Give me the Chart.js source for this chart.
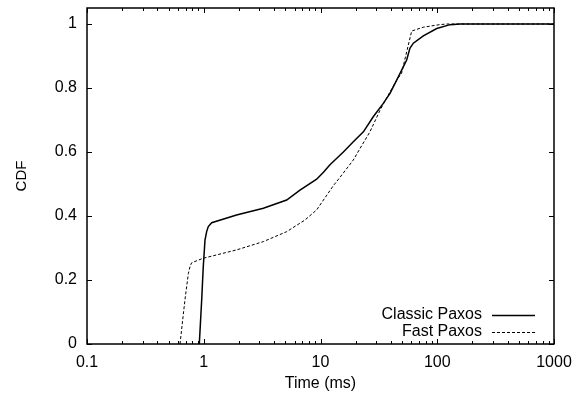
<!DOCTYPE html>
<html>
<head>
<meta charset="utf-8">
<script src="https://cdn.jsdelivr.net/npm/chart.js@4/dist/chart.umd.min.js"></script>
<style>
  html, body { margin: 0; padding: 0; background: #fff; }
  #wrap { width: 576px; height: 397px; }
</style>
</head>
<body>
<div id="wrap"><canvas id="cdfChart" width="576" height="397"></canvas></div>
<script>
// values
const classicX = [0.916, 0.96, 0.99, 1.025, 1.06, 1.094, 1.17, 1.91, 3.24, 5.13, 6.67, 9.27, 10.6, 12.05, 15.7, 19.1, 23.3, 28.3, 34.5, 39.4, 47.9, 54.7, 58.3, 62.4, 76, 99, 129, 157, 1000];
const classicY = [0, 0.1375, 0.24, 0.325, 0.352, 0.367, 0.379, 0.403, 0.424, 0.45, 0.481, 0.515, 0.537, 0.56, 0.60, 0.632, 0.663, 0.71, 0.752, 0.783, 0.845, 0.8875, 0.924, 0.94, 0.963, 0.986, 0.998, 1, 1];
const fastX = [0.626, 0.69, 0.738, 0.765, 0.789, 0.99, 1.91, 3.24, 5.13, 7.36, 9.27, 10.6, 12.9, 14.7, 19.1, 21.8, 26.5, 32.4, 38, 45, 49.5, 54.7, 60.4, 76, 105, 120, 1000];
const fastY = [0, 0.1375, 0.22, 0.244, 0.254, 0.268, 0.294, 0.32, 0.351, 0.3875, 0.419, 0.45, 0.495, 0.521, 0.575, 0.611, 0.663, 0.731, 0.778, 0.825, 0.846, 0.913, 0.978, 0.99, 0.998, 1, 1];
const xTicks = [0.1, 1, 10, 100, 1000];
const yTicks = [0, 0.2, 0.4, 0.6, 0.8, 1];
const seriesNames = ['Classic Paxos', 'Fast Paxos'];

const FONT = '"Liberation Sans", Arial, Helvetica, sans-serif';
const toPts = (xs, ys) => xs.map((x, i) => ({ x: x, y: ys[i] }));
const noPad = s => { s.paddingTop = 0; s.paddingBottom = 0; s.paddingLeft = 0; s.paddingRight = 0; };

// gnuplot style frame: box plus inward ticks on all sides
const framePlugin = {
  id: 'frame',
  afterDatasetsDraw(chart) {
    const { ctx, chartArea: a, scales } = chart;
    ctx.save();
    ctx.strokeStyle = '#000';
    ctx.lineWidth = 1;
    ctx.beginPath();
    const majorLen = 5, minorLen = 3;
    // x ticks, major + minor
    for (let d = 0.1; d < 1000; d *= 10) {
      for (let k = 1; k <= 10; k++) {
        const v = d * k;
        if (v > 1000) break;
        const px = Math.round(scales.x.getPixelForValue(v)) + 0.5;
        const len = (k === 1 || k === 10) ? majorLen : minorLen;
        ctx.moveTo(px, a.bottom); ctx.lineTo(px, a.bottom - len);
        ctx.moveTo(px, a.top); ctx.lineTo(px, a.top + len);
      }
    }
    yTicks.forEach(v => {
      const py = Math.round(scales.y.getPixelForValue(v)) + 0.5;
      ctx.moveTo(a.left, py); ctx.lineTo(a.left + majorLen, py);
      ctx.moveTo(a.right, py); ctx.lineTo(a.right - majorLen, py);
    });
    ctx.stroke();
    ctx.lineWidth = 1.5;
    ctx.strokeRect(a.left, a.top, a.right - a.left, a.bottom - a.top);

    // key, text then sample line
    ctx.font = '16px ' + FONT;
    ctx.fillStyle = '#000';
    ctx.textAlign = 'right';
    ctx.textBaseline = 'middle';
    chart.data.datasets.forEach((ds, i) => {
      const y = a.bottom - 29 + i * 17;
      ctx.fillText(ds.label, a.right - 72, y);
      ctx.setLineDash(ds.borderDash || []);
      ctx.lineWidth = ds.borderWidth;
      ctx.beginPath();
      ctx.moveTo(a.right - 62, y + 0.5);
      ctx.lineTo(a.right - 19, y + 0.5);
      ctx.stroke();
    });
    ctx.restore();
  }
};

new Chart(document.getElementById('cdfChart').getContext('2d'), {
  type: 'line',
  data: {
    datasets: [
      { label: seriesNames[0], data: toPts(classicX, classicY), borderColor: '#000', borderWidth: 1.5, pointRadius: 0, tension: 0 },
      { label: seriesNames[1], data: toPts(fastX, fastY), borderColor: '#000', borderWidth: 1, borderDash: [3, 2], pointRadius: 0, tension: 0 }
    ]
  },
  options: {
    responsive: false,
    animation: false,
    layout: { padding: { left: 0, top: 8, right: 22, bottom: 0 } },
    plugins: { legend: { display: false }, tooltip: { enabled: false } },
    scales: {
      x: {
        type: 'logarithmic',
        min: 0.1, max: 1000,
        afterBuildTicks: s => { s.ticks = xTicks.map(v => ({ value: v })); },
        afterFit: s => { s.height = 53; noPad(s); },
        grid: { display: false, drawTicks: false },
        border: { display: false },
        ticks: { color: '#000', font: { family: FONT, size: 16 }, padding: 9, maxRotation: 0, autoSkip: false, callback: v => String(v) },
        title: { display: true, text: 'Time (ms)', color: '#000', font: { family: FONT, size: 16 }, padding: { top: 0, bottom: 4 } }
      },
      y: {
        type: 'linear',
        min: 0, max: 1.05,
        afterBuildTicks: s => { s.ticks = yTicks.map(v => ({ value: v })); },
        afterFit: s => { s.width = 87; noPad(s); },
        grid: { display: false, drawTicks: false },
        border: { display: false },
        ticks: { color: '#000', font: { family: FONT, size: 16 }, padding: 10, callback: v => String(v) },
        title: { display: true, text: 'CDF', color: '#000', font: { family: FONT, size: 15 }, padding: { top: 13, bottom: 0 } }
      }
    }
  },
  plugins: [framePlugin]
});
</script>
</body>
</html>
